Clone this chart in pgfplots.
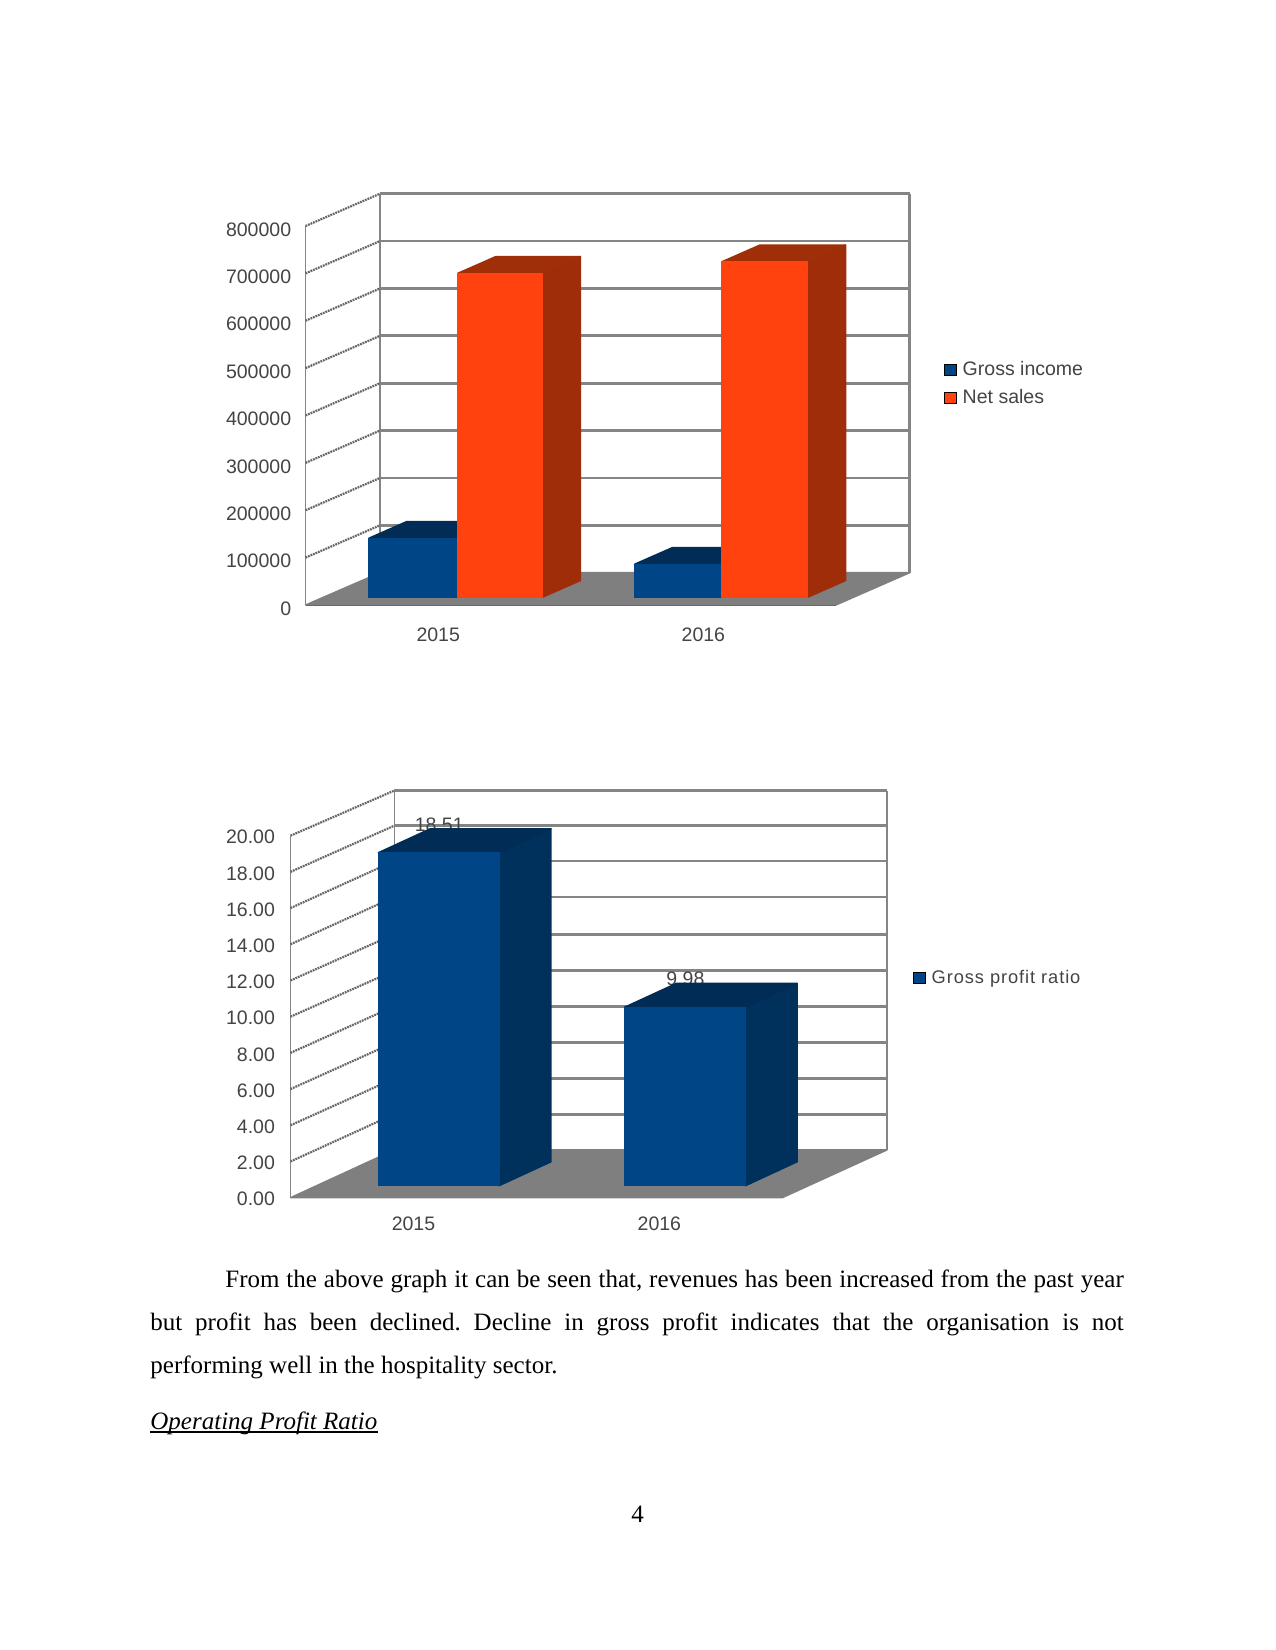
\documentclass[border=0pt]{standalone}
\usepackage{fontspec}
\usepackage{pgfplots}
\pgfplotsset{compat=1.18}
\setmainfont{Liberation Serif}
\newfontfamily\chartfont{Liberation Sans}
\newfontfamily\spacedfont[LetterSpace=5]{Liberation Sans}
\newdimen\pxu \pxu=0.4818pt
\definecolor{cblue}{HTML}{004586}
\definecolor{cblueside}{HTML}{00305C}
\definecolor{cbluetop}{HTML}{002C55}
\definecolor{corange}{HTML}{FF420E}
\definecolor{corangeside}{HTML}{A02D09}
\definecolor{corangetop}{HTML}{9E2F08}
\definecolor{floorgray}{HTML}{7F7F7F}
\definecolor{wallgray}{HTML}{858585}
\definecolor{txtgray}{HTML}{444444}
\pgfplotsset{
  legend image code/.code={\fill[#1] (0pt,-5.5\pxu) rectangle (12\pxu,5.5\pxu); \path (17.5\pxu,0pt);},
  chart3d/.style={
    scale only axis, clip=false, anchor=south west,
    axis lines=left, tick style={draw=none}, scaled y ticks=false,
    y axis line style={-, wallgray, line width=1.2\pxu},
    x axis line style={-, black!75, line width=1.4\pxu},
    xmin=0, xmax=2, xtick={0.5,1.5}, xticklabels={2015,2016},
    ticklabel style={font=\chartfont\fontsize{9.4}{11}\selectfont, text=txtgray},
    yticklabel style={/pgf/number format/assume math mode=true},
    legend style={draw=none, fill=none, inner sep=0pt, anchor=west,
      font=\chartfont\fontsize{9.4}{11}\selectfont, text=txtgray,
      nodes={inner sep=0pt, anchor=west},
      row sep=10\pxu},
    legend cell align=left,
  },
  wall/.style={forget plot, no marks, draw=wallgray, line width=2.8\pxu, unbounded coords=jump},
  walldiag/.style={forget plot, no marks, draw=black!60, line width=2.2\pxu, dash pattern=on 1.8\pxu off 0.9\pxu, unbounded coords=jump},
  face/.style={forget plot, no marks, fill=#1, draw=#1, line width=1.4\pxu, line join=round},
}
\begin{document}
\frenchspacing
\begin{tikzpicture}[x=0.4818pt,y=0.4818pt]
\path[fill=white,use as bounding box] (0,0) rectangle (1275,1650);

% Gross income / Net sales
\begin{axis}[chart3d, at={(305.6\pxu,1045\pxu)}, width=530.4\pxu, height=379\pxu,
    ymin=0, ymax=800000, ytick={0,100000,...,800000},
    yticklabel style={xshift=-2.7\pxu, yshift=-3.5\pxu, /pgf/number format/fixed, /pgf/number format/1000 sep={}},
    xticklabel style={yshift=-11\pxu},
    legend style={at={(1.2036,0.583)}}]
  % back wall lines
  \addplot[wall] coordinates {
    (0.2805,168180)(2.2780,168180)(nan,nan)
    (0.2805,268180)(2.2780,268180)(nan,nan)
    (0.2805,368180)(2.2780,368180)(nan,nan)
    (0.2805,468180)(2.2780,468180)(nan,nan)
    (0.2805,568180)(2.2780,568180)(nan,nan)
    (0.2805,668180)(2.2780,668180)(nan,nan)
    (0.2805,768180)(2.2780,768180)(nan,nan)
    (0.2805,868180)(2.2780,868180)(nan,nan)
    (2.2780,68180)(2.2780,868180)};
  \addplot[forget plot, no marks, draw=wallgray, line width=1.4\pxu] coordinates {(0.2805,68180)(0.2805,868180)};
  % side wall lines
  \addplot[walldiag] coordinates {
    (0,100000)(0.2805,168180)(nan,nan)
    (0,200000)(0.2805,268180)(nan,nan)
    (0,300000)(0.2805,368180)(nan,nan)
    (0,400000)(0.2805,468180)(nan,nan)
    (0,500000)(0.2805,568180)(nan,nan)
    (0,600000)(0.2805,668180)(nan,nan)
    (0,700000)(0.2805,768180)(nan,nan)
    (0,800000)(0.2805,868180)};
  % floor
  \addplot[face=floorgray] coordinates {(0,0)(2,0)(2.2780,68180)(0.2805,68180)} -- cycle;
  % 2015: gross income about 124500, net sales about 684000 (base 16250)
  \addplot[face=cbluetop] coordinates {(0.238,140800)(0.574,140800)(0.717,176050)(0.381,176050)} -- cycle;
  \addplot[face=cblue] coordinates {(0.238,16250)(0.574,16250)(0.574,140800)(0.238,140800)} -- cycle;
  \addplot[face=corangeside] coordinates {(0.893,16250)(1.036,51500)(1.036,735450)(0.893,700200)} -- cycle;
  \addplot[face=corangetop] coordinates {(0.574,700200)(0.893,700200)(1.036,735450)(0.717,735450)} -- cycle;
  \addplot[face=corange] coordinates {(0.574,16250)(0.893,16250)(0.893,700200)(0.574,700200)} -- cycle;
  % 2016: gross income about 69700, net sales about 708000
  \addplot[face=cbluetop] coordinates {(1.240,85900)(1.570,85900)(1.713,121150)(1.383,121150)} -- cycle;
  \addplot[face=cblue] coordinates {(1.240,16250)(1.570,16250)(1.570,85900)(1.240,85900)} -- cycle;
  \addplot[face=corangeside] coordinates {(1.893,16250)(2.036,51500)(2.036,759850)(1.893,724600)} -- cycle;
  \addplot[face=corangetop] coordinates {(1.570,724600)(1.893,724600)(2.036,759850)(1.713,759850)} -- cycle;
  \addplot[face=corange] coordinates {(1.570,16250)(1.893,16250)(1.893,724600)(1.570,724600)} -- cycle;
  \addlegendimage{fill=cblue}\addlegendentry{Gross income}
  \addlegendimage{fill=corange}\addlegendentry{Net sales}
\end{axis}

% Gross profit ratio
\begin{axis}[chart3d, at={(290.5\pxu,452.3\pxu)}, width=491.8\pxu, height=362\pxu,
    ymin=0, ymax=20, ytick={0,2,...,20},
    yticklabel style={xshift=-3.8\pxu, yshift=-1.5\pxu, /pgf/number format/fixed, /pgf/number format/fixed zerofill, /pgf/number format/precision=2},
    xticklabel style={yshift=-7.5\pxu},
    legend style={at={(1.2657,0.607)}, font=\spacedfont\fontsize{8.8}{11}\selectfont}]
  \addplot[wall] coordinates {
    (0.4217,4.61)(2.4260,4.61)(nan,nan)
    (0.4217,6.58)(2.4260,6.58)(nan,nan)
    (0.4217,8.58)(2.4260,8.58)(nan,nan)
    (0.4217,10.57)(2.4260,10.57)(nan,nan)
    (0.4217,12.54)(2.4260,12.54)(nan,nan)
    (0.4217,14.55)(2.4260,14.55)(nan,nan)
    (0.4217,16.61)(2.4260,16.61)(nan,nan)
    (0.4217,18.60)(2.4260,18.60)(nan,nan)
    (0.4217,20.55)(2.4260,20.55)(nan,nan)
    (0.4217,22.49)(2.4260,22.49)(nan,nan)
    (2.4260,2.64)(2.4260,22.49)};
  \addplot[forget plot, no marks, draw=wallgray, line width=1.4\pxu] coordinates {(0.4217,2.64)(0.4217,22.49)};
  \addplot[walldiag] coordinates {
    (0,2)(0.4217,4.61)(nan,nan)
    (0,4)(0.4217,6.58)(nan,nan)
    (0,6)(0.4217,8.58)(nan,nan)
    (0,8)(0.4217,10.57)(nan,nan)
    (0,10)(0.4217,12.54)(nan,nan)
    (0,12)(0.4217,14.55)(nan,nan)
    (0,14)(0.4217,16.61)(nan,nan)
    (0,16)(0.4217,18.60)(nan,nan)
    (0,18)(0.4217,20.55)(nan,nan)
    (0,20)(0.4217,22.49)};
  \addplot[face=floorgray] coordinates {(0,0)(2,0)(2.4260,2.64)(0.4217,2.64)} -- cycle;
  % value labels lie behind the bars' top faces
  \node[font=\chartfont\fontsize{9.4}{11}\selectfont, text=txtgray] at (axis cs:0.605,20.59) {18.51};
  \node[font=\chartfont\fontsize{9.4}{11}\selectfont, text=txtgray] at (axis cs:1.606,12.07) {9.98};
  % 2015: 18.51, 2016: 9.98 (bars stand 0.66 in from the floor's edge)
  \addplot[face=cblueside] coordinates {(0.848,0.66)(1.059,1.98)(1.059,20.38)(0.848,19.06)} -- cycle;
  \addplot[face=cbluetop] coordinates {(0.357,19.06)(0.848,19.06)(1.059,20.38)(0.568,20.38)} -- cycle;
  \addplot[face=cblue] coordinates {(0.357,0.66)(0.848,0.66)(0.848,19.06)(0.357,19.06)} -- cycle;
  \addplot[face=cblueside] coordinates {(1.850,0.66)(2.060,1.98)(2.060,11.84)(1.850,10.52)} -- cycle;
  \addplot[face=cbluetop] coordinates {(1.358,10.52)(1.850,10.52)(2.060,11.84)(1.569,11.84)} -- cycle;
  \addplot[face=cblue] coordinates {(1.358,0.66)(1.850,0.66)(1.850,10.52)(1.358,10.52)} -- cycle;
  \addlegendimage{fill=cblue}\addlegendentry{Gross profit ratio}
\end{axis}

% page text
\begin{scope}[every node/.style={anchor=base west, inner sep=0pt, font=\fontsize{12.05}{14}\selectfont}]
  \node at (225,362.3) {\makebox[898.3\pxu][s]{From the above graph it can be seen that, revenues has been increased from the past year}};
  \node at (150,319) {\makebox[973.3\pxu][s]{but profit has been declined. Decline in gross profit indicates that the organisation is not}};
  \node at (150,276.3) {performing well in the hospitality sector.};
  \node at (150,220.5) {\itshape Operating Profit Ratio};
  \node[anchor=base] at (637.5,127.8) {4};
\end{scope}
\draw[black, line width=1.3\pxu] (150,218) -- (378,218);
\end{tikzpicture}
\end{document}
